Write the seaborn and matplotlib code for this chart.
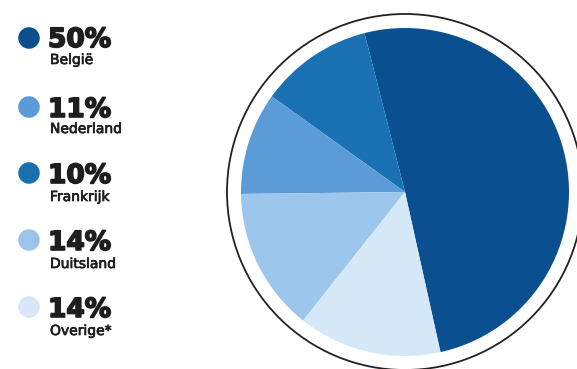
import matplotlib
matplotlib.use("Agg")
import matplotlib.pyplot as plt
import matplotlib.patheffects as pe
from matplotlib.patches import Circle
import seaborn as sns

# ---- data ----
categories = ["België", "Nederland", "Frankrijk", "Duitsland", "Overige*"]
shares = [50, 11, 10, 14, 14]
pct_labels = ["50%", "11%", "10%", "14%", "14%"]
legend_colors = ["#0b4f8e", "#5a9ad6", "#1a6fae", "#9bc4ea", "#d8e8f8"]
pie_colors = ["#0a4f8f", "#1a72b5", "#5b9bd8", "#9cc6ec", "#d5e8f8"]

sns.set_theme(style="white")
plt.rcParams["font.family"] = ["DejaVu Sans"]

W, H = 577, 369
fig = plt.figure(figsize=(W / 100, H / 100), dpi=100)
fig.patch.set_facecolor("white")

# pie axes: centre (405,192) px, radius 164 px
cx, cy, r = 405, 192, 164
half = 190
ax = fig.add_axes([(cx - half) / W, (H - cy - half) / H, 2 * half / W, 2 * half / H])
ax.pie(shares, colors=pie_colors, startangle=-77.5, counterclock=True,
       radius=1.0, wedgeprops=dict(linewidth=0))
ax.add_patch(Circle((0, 0), 178 / r, fill=False, edgecolor="#222222", linewidth=1.3))
lim = half / r
ax.set_xlim(-lim, lim)
ax.set_ylim(-lim, lim)
ax.set_aspect("equal")
ax.axis("off")

# legend overlay in pixel coordinates
ov = fig.add_axes([0, 0, 1, 1])
ov.patch.set_alpha(0)

dot_y = [38, 107, 173, 240, 307]
pct_base = [47, 117, 183, 250, 317]
lab_base = [64, 133, 201, 268, 335]
sns.scatterplot(x=[29] * 5, y=dot_y, hue=categories, palette=legend_colors,
                s=240, linewidth=0, legend=False, ax=ov)
ov.set_xlim(0, W)
ov.set_ylim(H, 0)
ov.axis("off")
ink = "#1e1e1e"
for i in range(5):
    ov.text(48, pct_base[i], pct_labels[i], fontsize=19, fontweight="bold",
            color=ink, va="baseline", ha="left",
            path_effects=[pe.withStroke(linewidth=1.2, foreground=ink)])
    ov.text(50, lab_base[i], categories[i], fontsize=10, fontweight="normal",
            color=ink, va="baseline", ha="left",
            path_effects=[pe.withStroke(linewidth=0.5, foreground=ink)])

fig.savefig("out.png", dpi=100, facecolor="white")
